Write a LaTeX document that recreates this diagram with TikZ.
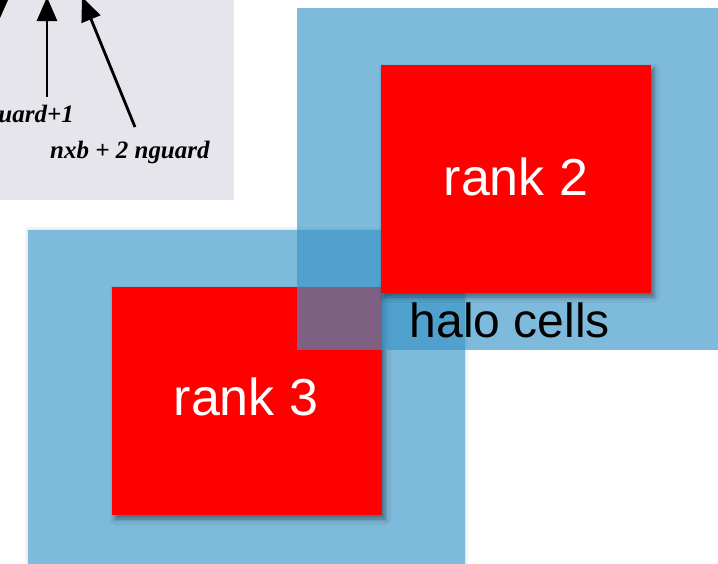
\documentclass[tikz,border=0pt]{standalone}
\usepackage{fontspec}
\setmainfont{Liberation Serif}
\newfontfamily\arialfont{Liberation Sans}
\usetikzlibrary{arrows.meta,shadows.blur}
\definecolor{halobase}{RGB}{126,186,219}
\definecolor{halotop}{RGB}{57,149,200}
\definecolor{rankred}{RGB}{255,0,0}
\definecolor{paper}{RGB}{229,229,235}
\tikzset{
  x=1pt,y=-1pt,
  redbox/.style={fill=rankred, draw=none, blur shadow={shadow xshift=3pt, shadow yshift=-4pt, shadow blur radius=5pt, shadow opacity=45}},
  ranklabel/.style={text=white, font=\arialfont\fontsize{52}{52}\selectfont, inner sep=0pt, anchor=base},
  halolabel/.style={text=black, font=\arialfont\fontsize{48}{48}\selectfont, inner sep=0pt, anchor=base},
  gridlabel/.style={text=black, font=\bfseries\itshape\fontsize{25}{25}\selectfont, inner sep=0pt},
  ptr/.style={line width=2.8pt, -{Triangle[length=24pt,width=20pt]}}
}
\begin{document}
\begin{tikzpicture}
\useasboundingbox (0,0) rectangle (718,563);
\clip (0,0) rectangle (718,563);
% grid picture fragment
\fill[paper] (0,0) rectangle (234,200);
\coordinate (a1s) at (47,97);
\coordinate (a1e) at (47,-3);
\coordinate (a2s) at (135,127);
\coordinate (a2e) at (82,-3);
\draw[ptr] (a1s) -- (a1e);
\draw[ptr] (a2s) -- (a2e);
\fill[black] (0,0) -- (8,0) -- (0,18) -- cycle;
\node[gridlabel, anchor=base east] (l1) at (74,122) {uard+1};
\node[gridlabel, anchor=base west] (l2) at (50,158) {nxb + 2 nguard};
% rank 3 halo and block
\fill[halobase, blur shadow={shadow xshift=0pt, shadow yshift=0pt, shadow blur radius=4pt, shadow opacity=20}] (28,230) rectangle (465,570);
\path[redbox] (112,287) rectangle (382,515);
\node[ranklabel] (r3) at (246,415) {rank 3};
% rank 2 halo (translucent) and block
\fill[halotop, fill opacity=0.65] (297,8) rectangle (725,350);
\path[redbox] (381,65) rectangle (651,293);
\node[ranklabel] (r2) at (516,195) {rank 2};
\node[halolabel] (halo) at (510,337) {halo cells};
\end{tikzpicture}
\end{document}
